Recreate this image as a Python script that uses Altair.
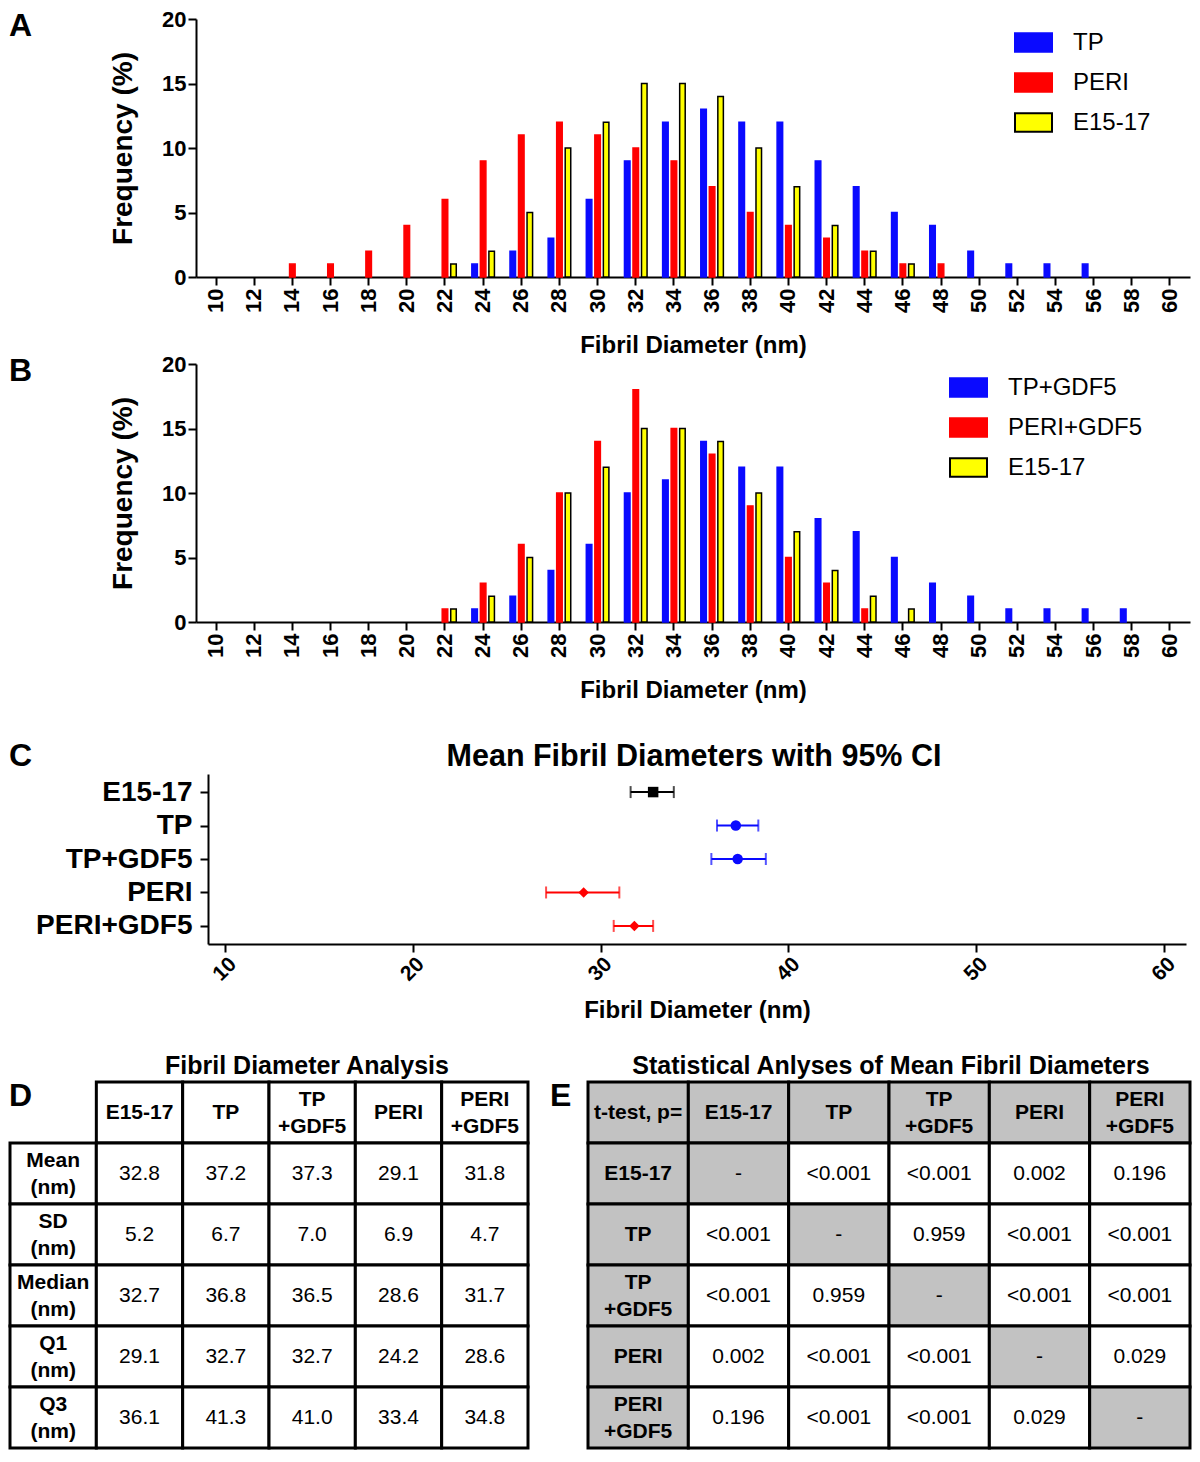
import altair as alt
import pandas as pd

FONT = "Liberation Sans, Arial, Helvetica, sans-serif"
BLUE = "#0a0aff"
RED = "#ff0000"
YELLOW = "#ffff00"
GRAY = "#c2c2c2"

# ---------------- data ----------------
bins = list(range(10, 62, 2))
series_a = ["TP", "PERI", "E15-17"]
series_b = ["TP+GDF5", "PERI+GDF5", "E15-17"]

freq_tp = [0, 0, 0, 0, 0, 0, 0, 1, 2, 3, 6, 9, 12, 13, 12, 12, 9, 7, 5, 4, 2, 1, 1, 1, 0, 0]
freq_peri = [0, 0, 1, 1, 2, 4, 6, 9, 11, 12, 11, 10, 9, 7, 5, 4, 3, 2, 1, 1, 0, 0, 0, 0, 0, 0]
freq_e1517 = [0, 0, 0, 0, 0, 0, 1, 2, 5, 10, 12, 15, 15, 14, 10, 7, 4, 2, 1, 0, 0, 0, 0, 0, 0, 0]
freq_tp_gdf5 = [0, 0, 0, 0, 0, 0, 0, 1, 2, 4, 6, 10, 11, 14, 12, 12, 8, 7, 5, 3, 2, 1, 1, 1, 1, 0]
freq_peri_gdf5 = [0, 0, 0, 0, 0, 0, 1, 3, 6, 10, 14, 18, 15, 13, 9, 5, 3, 1, 0, 0, 0, 0, 0, 0, 0, 0]

groups = ["E15-17", "TP", "TP+GDF5", "PERI", "PERI+GDF5"]
mean_nm = [32.8, 37.2, 37.3, 29.1, 31.8]
ci_low = [31.6, 36.2, 35.9, 27.1, 30.7]
ci_high = [33.9, 38.4, 38.8, 31.0, 32.8]
group_colors = ["#000000", BLUE, BLUE, RED, RED]
group_shapes = ["square", "circle", "circle", "diamond", "diamond"]

stat_names = ["Mean", "SD", "Median", "Q1", "Q3"]
stat_mean = [32.8, 37.2, 37.3, 29.1, 31.8]
stat_sd = [5.2, 6.7, 7.0, 6.9, 4.7]
stat_median = [32.7, 36.8, 36.5, 28.6, 31.7]
stat_q1 = [29.1, 32.7, 32.7, 24.2, 28.6]
stat_q3 = [36.1, 41.3, 41.0, 33.4, 34.8]

p_e1517 = ["-", "<0.001", "<0.001", "0.002", "0.196"]
p_tp = ["<0.001", "-", "0.959", "<0.001", "<0.001"]
p_tp_gdf5 = ["<0.001", "0.959", "-", "<0.001", "<0.001"]
p_peri = ["0.002", "<0.001", "<0.001", "-", "0.029"]
p_peri_gdf5 = ["0.196", "<0.001", "<0.001", "0.029", "-"]


def letter(ch, x, y):
    return alt.Chart(pd.DataFrame({"t": [ch]})).mark_text(
        font=FONT, fontSize=32, fontWeight="bold", align="left", baseline="top", color="black"
    ).encode(text="t:N", x=alt.value(x), y=alt.value(y))


# ---------------- panels A / B ----------------
def histogram(names, arrays, legend_x, ch):
    rows = []
    for name, arr in zip(names, arrays):
        for b, v in zip(bins, arr):
            if v > 0:
                rows.append({"d": b, "s": name, "v": v})
    df = pd.DataFrame(rows)
    legend = alt.Legend(
        title=None, orient="none", legendX=legend_x, legendY=4, padding=0,
        symbolType="M-1,-0.5H1V0.5H-1Z", symbolSize=1369, symbolStrokeWidth=2,
        labelFont=FONT, labelFontSize=24, labelFontWeight="normal", labelColor="black",
        labelOffset=20, rowPadding=7,
    )
    bars = alt.Chart(df).mark_bar(strokeWidth=1.5, opacity=1).encode(
        x=alt.X("d:O", scale=alt.Scale(domain=bins, paddingInner=0.33, paddingOuter=0.19),
                axis=alt.Axis(title="Fibril Diameter (nm)", titleFontSize=24, labelFontSize=22,
                              labelAngle=270, labelPadding=3, titlePadding=21)),
        xOffset=alt.XOffset("s:N", scale=alt.Scale(domain=names, paddingInner=0.35, paddingOuter=0.175)),
        y=alt.Y("v:Q", scale=alt.Scale(domain=[0, 20], nice=False),
                axis=alt.Axis(values=[0, 5, 10, 15, 20], title="Frequency (%)", titleFontSize=28,
                              labelFontSize=22, labelPadding=2, titlePadding=24)),
        color=alt.Color("s:N", scale=alt.Scale(domain=names, range=[BLUE, RED, YELLOW]), legend=legend),
        stroke=alt.Stroke("s:N", scale=alt.Scale(domain=names, range=[BLUE, RED, "#000000"]), legend=legend),
    )
    return alt.layer(bars, letter(ch, -187, -8)).properties(width=994, height=258)


chart_a = histogram(series_a, [freq_tp, freq_peri, freq_e1517], 818, "A")
chart_b = histogram(series_b, [freq_tp_gdf5, freq_peri_gdf5, freq_e1517], 753, "B")

# ---------------- panel C ----------------
cdf = pd.DataFrame({"g": groups, "m": mean_nm, "lo": ci_low, "hi": ci_high})
xs = alt.Scale(domain=[9.1, 61.17], range=[12, 990], nice=False, zero=False)
xaxis = alt.Axis(values=[10, 20, 30, 40, 50, 60], title="Fibril Diameter (nm)", labelAngle=315,
                 labelFontSize=21, titleFontSize=24, titlePadding=14, labelPadding=1)
ys = alt.Scale(type="point", domain=groups, range=[65, 235], padding=0.54)
yaxis = alt.Axis(title=None, labelFontSize=28, labelPadding=8, offset=-12)
col = alt.Color("g:N", scale=alt.Scale(domain=groups, range=group_colors), legend=None)
ych = alt.Y("g:N", scale=ys, axis=yaxis)
cbase = alt.Chart(cdf)
c_rule = cbase.mark_rule(strokeWidth=2).encode(
    x=alt.X("lo:Q", scale=xs, axis=xaxis), x2="hi:Q", y=ych, color=col)
c_lo = cbase.mark_tick(thickness=2, size=12).encode(
    x=alt.X("lo:Q", scale=xs, axis=xaxis), y=ych, color=col)
c_hi = cbase.mark_tick(thickness=2, size=12).encode(
    x=alt.X("hi:Q", scale=xs, axis=xaxis), y=ych, color=col)
c_pts = cbase.mark_point(filled=True, size=110, opacity=1).encode(
    x=alt.X("m:Q", scale=xs, axis=xaxis), y=ych, color=col,
    shape=alt.Shape("g:N", scale=alt.Scale(domain=groups, range=group_shapes), legend=None))
c_title = alt.Chart(pd.DataFrame({"t": ["Mean Fibril Diameters with 95% CI"]})).mark_text(
    font=FONT, fontSize=30.5, fontWeight="bold", align="center", baseline="middle", color="black"
).encode(text="t:N", x=alt.value(498), y=alt.value(48))
chart_c = alt.layer(c_rule, c_lo, c_hi, c_pts, c_title, letter("C", -187, 32)).properties(width=990, height=235)

# ---------------- tables D / E ----------------
def two_line(name):
    return name.replace("+", "\n+")


d_cols = ["stat"] + groups
d_rows = ["head"] + stat_names
d_cells = [{"c": g, "r": "head", "t": two_line(g), "b": 1} for g in groups]
for s, vals in zip(stat_names, [stat_mean, stat_sd, stat_median, stat_q1, stat_q3]):
    d_cells.append({"c": "stat", "r": s, "t": s + "\n(nm)", "b": 1})
    for g, v in zip(groups, vals):
        d_cells.append({"c": g, "r": s, "t": f"{v:.1f}", "b": 0})
ddf = pd.DataFrame(d_cells)

e_cols = ["lab"] + groups
e_rows = ["head"] + groups
e_cells = [{"c": "lab", "r": "head", "t": "t-test, p=", "b": 1, "k": "gray"}]
e_cells += [{"c": g, "r": "head", "t": two_line(g), "b": 1, "k": "gray"} for g in groups]
for rg, prow in zip(groups, [p_e1517, p_tp, p_tp_gdf5, p_peri, p_peri_gdf5]):
    e_cells.append({"c": "lab", "r": rg, "t": two_line(rg), "b": 1, "k": "gray"})
    for cg, p in zip(groups, prow):
        e_cells.append({"c": cg, "r": rg, "t": p, "b": 0, "k": "gray" if cg == rg else "white"})
edf = pd.DataFrame(e_cells)


def table(df, cols, rows, xr, filled):
    df = df.copy()
    df["n"] = df["t"].str.count("\n") + 1
    xe = alt.X("c:N", scale=alt.Scale(domain=cols, range=xr, paddingInner=0, paddingOuter=0), axis=None)
    ye = alt.Y("r:N", scale=alt.Scale(domain=rows, range=[51, 417], paddingInner=0, paddingOuter=0), axis=None)
    base = alt.Chart(df)
    if filled:
        rect = base.mark_rect(stroke="black", strokeWidth=3).encode(
            x=xe, y=ye,
            fill=alt.Fill("k:N", scale=alt.Scale(domain=["gray", "white"], range=[GRAY, "#ffffff"]), legend=None))
    else:
        rect = base.mark_rect(fill="white", stroke="black", strokeWidth=3).encode(x=xe, y=ye)
    txt = dict(font=FONT, fontSize=21, lineBreak="\n", lineHeight=27, color="black", baseline="middle")
    bold1 = base.transform_filter("datum.b == 1 && datum.n == 1").mark_text(
        fontWeight="bold", **txt).encode(x=xe, y=ye, text="t:N")
    bold2 = base.transform_filter("datum.b == 1 && datum.n == 2").mark_text(
        fontWeight="bold", dy=-13, **txt).encode(x=xe, y=ye, text="t:N")
    reg = base.transform_filter("datum.b == 0").mark_text(
        fontWeight="normal", **txt).encode(x=xe, y=ye, text="t:N")
    return alt.layer(rect, bold1, bold2, reg)


def title_text(t, x):
    return alt.Chart(pd.DataFrame({"t": [t]})).mark_text(
        font=FONT, fontSize=25, fontWeight="bold", align="center", baseline="middle", color="black"
    ).encode(text="t:N", x=alt.value(x), y=alt.value(35))


tab_d = table(ddf, d_cols, d_rows, [-186, 332], False)
tab_e = table(edf, e_cols, e_rows, [392, 994], True)
chart_t = alt.layer(
    tab_d, tab_e,
    title_text("Fibril Diameter Analysis", 111),
    title_text("Statistical Anlyses of Mean Fibril Diameters", 695),
    letter("D", -187, 50), letter("E", 354, 50),
).resolve_scale(x="independent", y="independent", fill="independent").properties(width=994, height=417)

chart = alt.vconcat(chart_a, chart_b, chart_c, chart_t, spacing=87, bounds="flush").resolve_scale(
    color="independent", stroke="independent", shape="independent", fill="independent",
    xOffset="independent", x="independent", y="independent",
).configure_view(
    stroke=None
).configure_axis(
    domainColor="black", domainWidth=2, tickColor="black", tickWidth=2, tickSize=8,
    labelColor="black", titleColor="black", labelFont=FONT, titleFont=FONT,
    labelFontWeight="bold", titleFontWeight="bold", grid=False, labelFlush=False, labelOverlap=False,
).properties(padding=0)

chart.save("out.html", embed_options={"renderer": "svg", "actions": False})
